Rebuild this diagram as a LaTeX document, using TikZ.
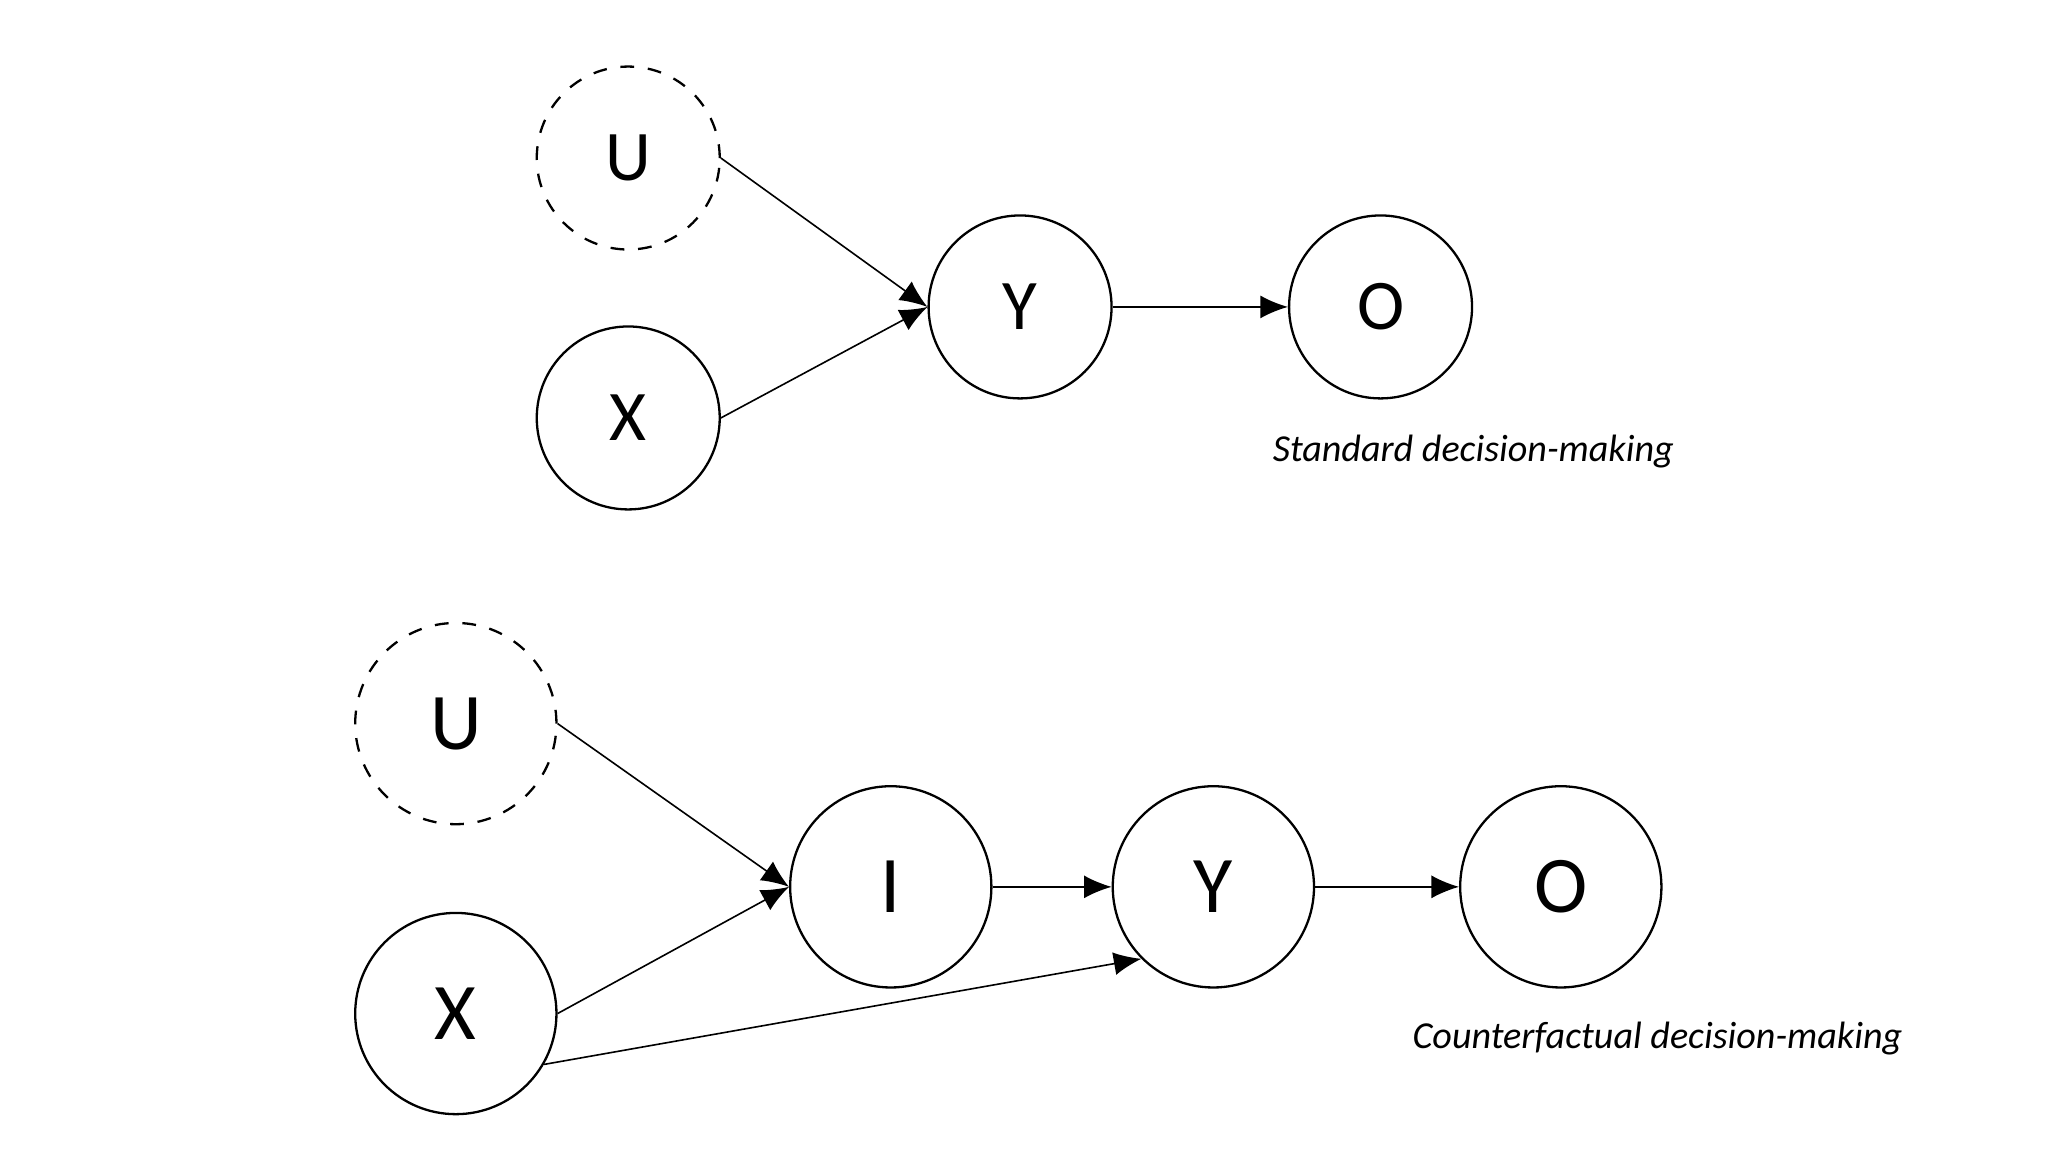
\documentclass[tikz,border=0pt]{standalone}
\usepackage{fontspec}
\setmainfont{Carlito}
\usetikzlibrary{arrows.meta}
\begin{document}
\begin{tikzpicture}[x=0.01cm,y=-0.01cm,
  n/.style={circle,draw,line width=0.5pt,inner sep=0pt,minimum size=1.40cm,font=\fontsize{15.5}{18}\selectfont},
  m/.style={circle,draw,line width=0.5pt,inner sep=0pt,minimum size=1.54cm,font=\fontsize{17.5}{20}\selectfont},
  lat/.style={dashed},
  e/.style={-{Latex[length=6pt,width=5pt]},line width=0.35pt},
  lab/.style={font=\fontsize{8.3}{10}\selectfont\itshape}]
\useasboundingbox (0,0) rectangle (1568,882);
\node[n,lat] (U1) at (481,121) {U};
\node[n] (X1) at (481,320) {X};
\node[n] (Y1) at (781,235) {Y};
\node[n] (O1) at (1057,235) {O};
\node[lab] (L1) at (1128,346) {Standard decision-making};
\draw[e] (U1.east) -- (Y1.west);
\draw[e] (X1.east) -- (Y1.west);
\draw[e] (Y1) -- (O1);
\node[m,lat] (U2) at (349,554) {U};
\node[m] (X2) at (349,776) {X};
\node[m] (I2) at (682,679) {I};
\node[m] (Y2) at (929,679) {Y};
\node[m] (O2) at (1195,679) {O};
\node[lab] (L2) at (1269,795) {Counterfactual decision-making};
\draw[e] (U2.east) -- (I2.west);
\draw[e] (X2.east) -- (I2.west);
\draw[e] (X2.-30) -- (Y2.-135);
\draw[e] (I2) -- (Y2);
\draw[e] (Y2) -- (O2);
\end{tikzpicture}
\end{document}
